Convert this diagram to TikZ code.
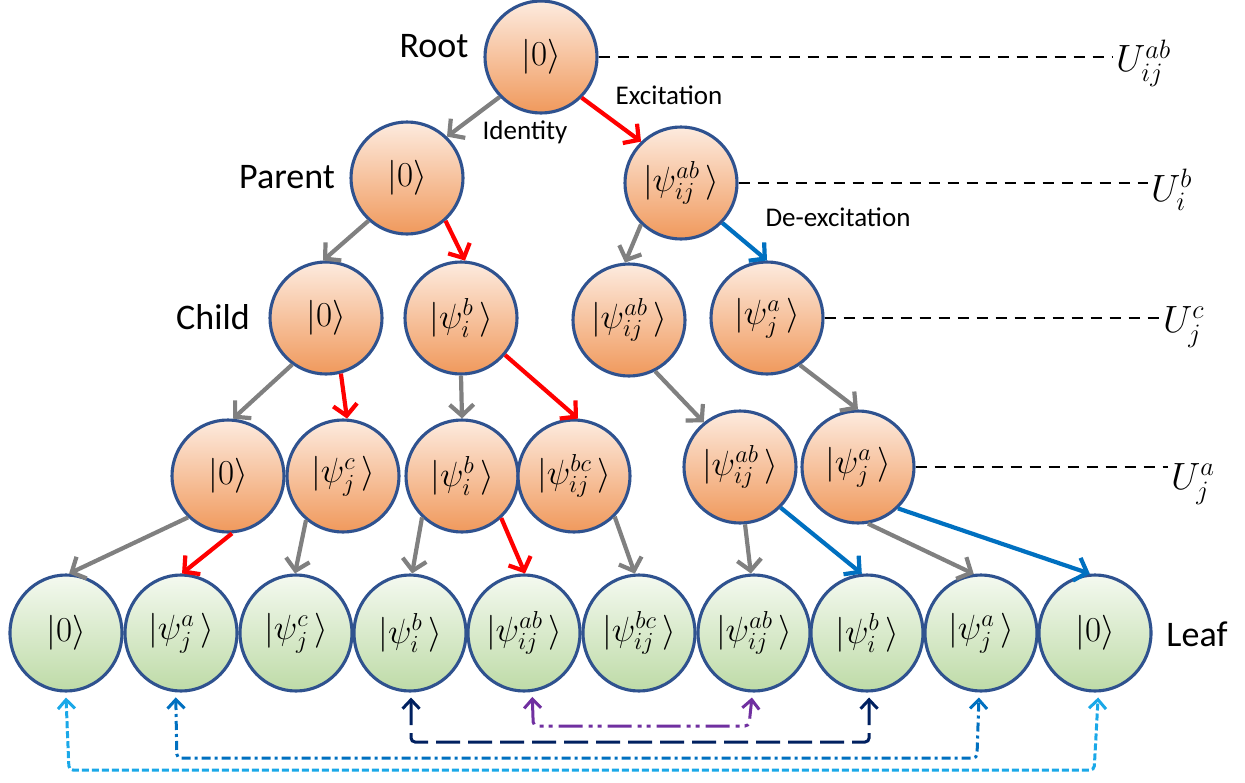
\RequirePackage{fix-cm}
\documentclass[tikz,border=0pt]{standalone}
\usepackage[no-math]{fontspec}
\setmainfont{Carlito}
\usetikzlibrary{arrows.meta,shapes.geometric}
\definecolor{nodeblue}{HTML}{2F528F}
\definecolor{orTop}{HTML}{FDEBDF}
\definecolor{orBot}{HTML}{F0995C}
\definecolor{grTop}{HTML}{F4F9F0}
\definecolor{grBot}{HTML}{BEDBA7}
\definecolor{arrgray}{HTML}{808080}
\definecolor{arrred}{HTML}{FF0000}
\definecolor{arrblue}{HTML}{0070C0}
\definecolor{conncyan}{HTML}{1AA8E8}
\definecolor{connnavy}{HTML}{002060}
\definecolor{connpurple}{HTML}{7030A0}
\newcommand{\ketfont}{\fontsize{35}{40}\selectfont}
\newcommand{\ket}[1]{$|#1\,\rangle$}
\tikzset{
  innernode/.style={circle, draw=nodeblue, line width=3.1pt, minimum size=112pt, inner sep=0pt,
    top color=orTop, bottom color=orBot, font=\ketfont},
  leafnode/.style={ellipse, draw=nodeblue, line width=3.1pt, minimum width=112pt, minimum height=116pt, inner sep=0pt,
    top color=grTop, bottom color=grBot, font=\ketfont},
  tarrow/.style={line width=4.2pt, -{Straight Barb[length=11pt,width=24pt]}},
  garr/.style={tarrow, draw=arrgray},
  rarr/.style={tarrow, draw=arrred},
  barr/.style={tarrow, draw=arrblue},
  levellabel/.style={font=\fontsize{36}{42}\selectfont},
  oplabel/.style={font=\fontsize{27}{32}\selectfont},
  ulabel/.style={font=\fontsize{38}{44}\selectfont, anchor=west, inner sep=3pt},
  uline/.style={line width=2.6pt, dash pattern=on 11pt off 8pt},
  conn/.style={line width=3pt, {Straight Barb[length=9pt,width=17pt]}-{Straight Barb[length=9pt,width=17pt]}, rounded corners=4pt},
}
\begin{document}
\begin{tikzpicture}[x=1pt,y=-1pt]
\useasboundingbox (0,0) rectangle (1245,782);
% level 0
\node[innernode] (R) at (541,57) {$|0\rangle$};
% level 1
\node[innernode] (P0) at (407,178) {$|0\rangle$};
\node[innernode] (PE) at (681,183) {\ket{\psi^{ab}_{ij}}};
% level 2
\node[innernode] (C1) at (326,318) {$|0\rangle$};
\node[innernode] (C2) at (461,318) {\ket{\psi^{b}_{i}}};
\node[innernode] (C3) at (629,320) {\ket{\psi^{ab}_{ij}}};
\node[innernode] (C4) at (767,318) {\ket{\psi^{a}_{j}}};
% level 3
\node[innernode] (D1) at (228,476) {$|0\rangle$};
\node[innernode] (D2) at (343,476) {\ket{\psi^{c}_{j}}};
\node[innernode] (D3) at (462,476) {\ket{\psi^{b}_{i}}};
\node[innernode] (D4) at (574,476) {\ket{\psi^{bc}_{ij}}};
\node[innernode] (D5) at (740,467) {\ket{\psi^{ab}_{ij}}};
\node[innernode] (D6) at (858,467) {\ket{\psi^{a}_{j}}};
% leaves
\node[leafnode] (L1) at (66,633) {$|0\rangle$};
\node[leafnode] (L2) at (181,633) {\ket{\psi^{a}_{j}}};
\node[leafnode] (L3) at (296,633) {\ket{\psi^{c}_{j}}};
\node[leafnode] (L4) at (410,633) {\ket{\psi^{b}_{i}}};
\node[leafnode] (L5) at (524,633) {\ket{\psi^{ab}_{ij}}};
\node[leafnode] (L6) at (639,633) {\ket{\psi^{bc}_{ij}}};
\node[leafnode] (L7) at (754,633) {\ket{\psi^{ab}_{ij}}};
\node[leafnode] (L8) at (867,633) {\ket{\psi^{b}_{i}}};
\node[leafnode] (L9) at (981,633) {\ket{\psi^{a}_{j}}};
\node[leafnode] (L10) at (1095,633) {$|0\rangle$};
% level labels
\node[levellabel] (tRoot) at (434,46) {Root};
\node[levellabel] (tParent) at (287,177) {Parent};
\node[levellabel] (tChild) at (213,317) {Child};
\node[levellabel] (tLeaf) at (1197,634) {Leaf};
\node[oplabel] (tId) at (525,132) {Identity};
\node[oplabel] (tEx) at (669,95) {Excitation};
\node[oplabel] (tDe) at (838,217) {De-excitation};
% U labels
\node[ulabel] (U1) at (1113,63) {$U^{ab}_{ij}$};
\node[ulabel] (U2) at (1148,190) {$U^{b}_{i}$};
\node[ulabel] (U3) at (1160,327) {$U^{c}_{j}$};
\node[ulabel] (U4) at (1168,484) {$U^{a}_{j}$};
\draw[uline] (R.east) -- (R.east -| U1.west);
\draw[uline] (PE.east) -- (PE.east -| U2.west);
\draw[uline] (C4.east) -- (C4.east -| U3.west);
\draw[uline] (D6.east) -- (D6.east -| U4.west);
% tree arrows
\draw[garr] (R.224) -- (P0.46);
\draw[rarr] (R.315) -- (PE.134);
\draw[garr] (P0.228) -- (C1.93);
\draw[rarr] (P0.312) -- (C2.86);
\draw[garr] (PE.226) -- (C3.94);
\draw[barr] (PE.316) -- (C4.90);
\draw[garr] (C1.234) -- (D1.85);
\draw[rarr] (C1.285) -- (D2.86);
\draw[garr] (C2.270) -- (D3.90);
\draw[rarr] (C2.320) -- (D4.86);
\draw[garr] (C3.297) -- (D5.129);
\draw[garr] (C4.305) -- (D6.90);
\draw[garr] (D1.226) -- (L1.87);
\draw[rarr] (D1.274) -- (L2.89);
\draw[garr] (D2.230) -- (L3.91);
\draw[garr] (D3.226) -- (L4.88);
\draw[rarr] (D3.313) -- (L5.89);
\draw[garr] (D4.315) -- (L6.94);
\draw[garr] (D5.275) -- (L7.93);
\draw[barr] (D5.315) -- (L8.95);
\draw[garr] (D6.280) -- (L9.97);
\draw[barr] (D6.314) -- (L10.95);
% bottom connectors
\draw[conn, draw=conncyan, dash pattern=on 7pt off 3pt]
  ([yshift=-5pt]L1.270) -- ([xshift=3pt]L1.270 |- 0,770) -- ([xshift=-4pt]L10.273 |- 0,770) -- ([yshift=-5pt]L10.273);
\draw[conn, draw=arrblue, dash pattern=on 9pt off 4pt on 3pt off 4pt]
  ([yshift=-5pt]L2.265) -- ([xshift=1pt]L2.265 |- 0,758) -- ([xshift=-2pt]L9.268 |- 0,758) -- ([yshift=-5pt]L9.268);
\draw[conn, draw=connnavy, dash pattern=on 24pt off 8pt]
  ([yshift=-5pt]L4.271) -- (L4.271 |- 0,742) -- (L8.272 |- 0,742) -- ([yshift=-5pt]L8.272);
\draw[conn, draw=connpurple, dash pattern=on 24pt off 6pt on 4pt off 5pt on 4pt off 6pt]
  ([yshift=-5pt]L5.278) -- ([xshift=1pt]L5.278 |- 0,726) -- ([xshift=-3pt]L7.268 |- 0,726) -- ([yshift=-5pt]L7.268);
\end{tikzpicture}
\end{document}
